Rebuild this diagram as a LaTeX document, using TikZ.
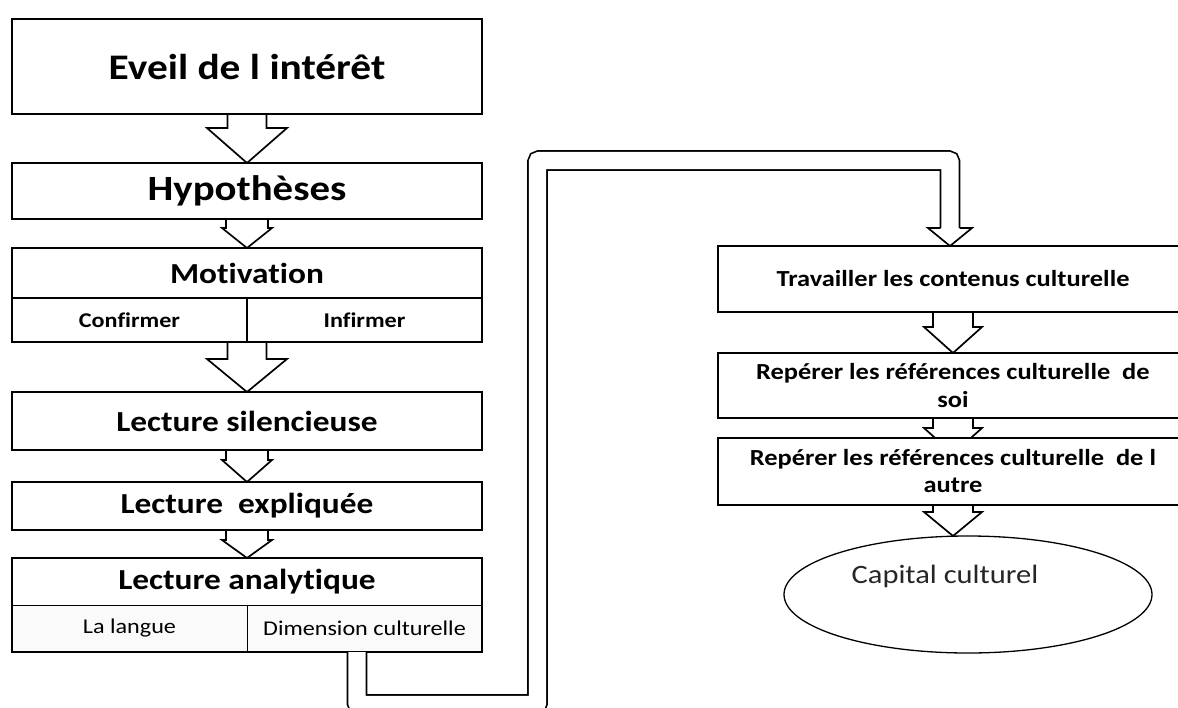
\documentclass[tikz,border=0pt]{standalone}
\usepackage{fontspec}
\setmainfont[FakeStretch=1.15, Ligatures=NoCommon]{Carlito}
\usepackage{tikz}
\usetikzlibrary{positioning, shapes.geometric, calc}
\pgfdeclarelayer{back}
\pgfsetlayers{back,main}

% hollow block arrow: from, tip, shaft half width, head half width, head length
\newcommand{\blockarrow}[5]{%
  \begin{pgfonlayer}{back}
  \draw[arrowline] let \p1=#1, \p2=#2 in
    (\x2-#3,\y1) -- (\x2-#3,\y2+#5) -- (\x2-#4,\y2+#5) -- (\x2,\y2)
    -- (\x2+#4,\y2+#5) -- (\x2+#3,\y2+#5) -- (\x2+#3,\y1);
  \end{pgfonlayer}}

\begin{document}
\begin{tikzpicture}[
x=1pt, y=-1pt,
    box/.style = {draw, line width=1.8pt, fill=white, minimum width=470pt,
        inner sep=0pt, outer sep=0pt, align=center},
    cell/.style = {draw, fill=white, minimum width=235pt,
        inner sep=0pt, outer sep=0pt},
    arrowline/.style = {draw, fill=white, line width=1.7pt, line join=miter},
    pipe/.style = {line width=1.7pt, double=white, double distance=17.4pt,
        rounded corners=2pt},
]
\useasboundingbox (0,0) rectangle (1178,707);
\clip (0,0) rectangle (1178,707);
\begin{pgfonlayer}{back}
\fill[white] (0,0) rectangle (1178,707);
\end{pgfonlayer}

% left column
\node[box, minimum height=95pt, font=\fontsize{36}{40}\selectfont\bfseries] (eveil) at (247,66.5) {Eveil de l intérêt};
\node[box, minimum height=56pt, font=\fontsize{35.5}{40}\selectfont\bfseries] (hyp) [below=49pt of eveil] {Hypothèses};
\node[box, minimum height=50pt, font=\fontsize{29}{34}\selectfont\bfseries] (motiv) [below=29pt of hyp] {Motivation};
\node[cell, line width=1.8pt, minimum height=44pt, anchor=north west,
      font=\fontsize{21}{25}\selectfont\bfseries] (conf) at (motiv.south west) {Confirmer};
\node[cell, line width=1.8pt, minimum height=44pt, anchor=north west,
      font=\fontsize{21}{25}\selectfont\bfseries] (inf) at (conf.north east) {Infirmer};
\node[box, minimum height=58pt, font=\fontsize{29}{34}\selectfont\bfseries] (silenc) [below=50pt of conf.south east] {Lecture silencieuse};
\node[box, minimum height=48pt, font=\fontsize{29}{34}\selectfont\bfseries] (expl) [below=32pt of silenc] {Lecture~ expliquée};
\node[box, line width=0.8pt, minimum height=47pt, font=\fontsize{29}{34}\selectfont\bfseries] (ana) [below=28pt of expl] {Lecture analytique};
\node[cell, line width=0.8pt, fill=gray!4, minimum height=47pt, anchor=north west,
      font=\fontsize{21}{25}\selectfont] (lang) at (ana.south west) {La langue};
\node[cell, line width=0.8pt, fill=gray!4, minimum height=47pt, anchor=north west,
      font=\fontsize{21}{25}\selectfont] (dim) at (lang.north east) {Dimension culturelle};
\draw[line width=1.8pt] (ana.north west) rectangle (dim.south east);

% right column
\node[box, minimum height=66pt, font=\fontsize{23}{28}\selectfont\bfseries] (trav) at (953,279) {Travailler les contenus culturelle};
\node[box, minimum height=65pt, font=\fontsize{23}{28}\selectfont\bfseries] (rep1) [below=41pt of trav] {Repérer les références culturelle~ de\\soi};
\node[box, minimum height=67pt, font=\fontsize{23}{27}\selectfont\bfseries] (rep2) [below=20pt of rep1] {Repérer les références culturelle~ de l\\autre};
\node[ellipse, draw, line width=1.3pt, fill=white, minimum width=368pt, minimum height=117pt,
      inner sep=0pt, outer sep=0pt] (cap) at (968,594.5) {};
\node[text=black!85, font=\fontsize{26.5}{32}\selectfont] (captxt) at ([xshift=-23pt,yshift=18pt]cap.center) {Capital culturel};

% arrows
\blockarrow{(eveil.south)}{(hyp.north)}{19.5pt}{40pt}{35pt}
\blockarrow{(hyp.south)}{(motiv.north)}{21pt}{25pt}{20pt}
\blockarrow{(conf.south east)}{(silenc.north)}{19.5pt}{40pt}{33pt}
\blockarrow{(silenc.south)}{(expl.north)}{21pt}{25pt}{22pt}
\blockarrow{(expl.south)}{(ana.north)}{21pt}{25pt}{18pt}
\blockarrow{(trav.south)}{(rep1.north)}{20pt}{29pt}{26pt}
\blockarrow{(rep1.south)}{([yshift=-16pt]rep2.north)}{20pt}{29pt}{26pt}
\blockarrow{(rep2.south)}{(rep2.south |- cap.north)}{20pt}{29pt}{24pt}

% pipe from the left column to the right one
\coordinate (pbot) at (537.5,704.5);
\coordinate (ptop) at (537.5,160.5);
\coordinate (phead) at ([xshift=-3pt,yshift=18pt]trav.north);
\draw[pipe] ([xshift=-7.5pt]dim.south) |- (pbot) -- (ptop) -| (phead);
\draw[arrowline] ([xshift=-9.5pt]phead) -- ([xshift=-22pt]phead)
  -- ([xshift=-3pt]trav.north) -- ([xshift=22pt]phead) -- ([xshift=9.5pt]phead);

\end{tikzpicture}
\end{document}
